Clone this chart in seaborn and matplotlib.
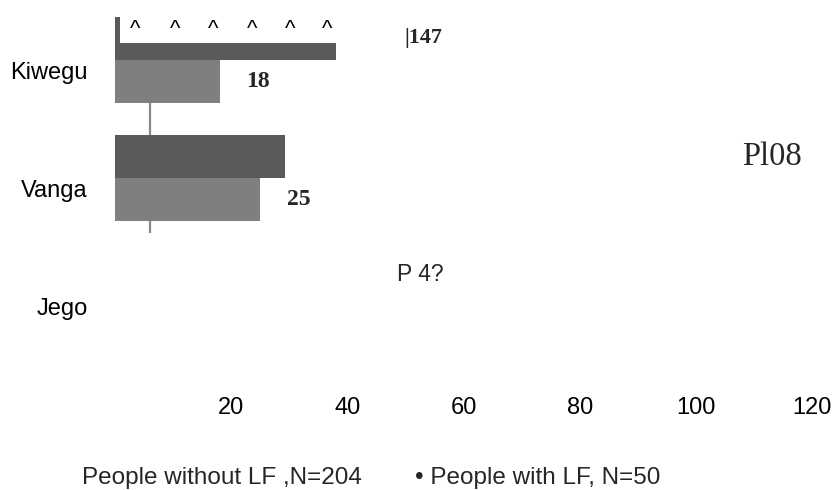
import matplotlib
matplotlib.use("Agg")
import matplotlib.pyplot as plt
import matplotlib.transforms as mtransforms
from matplotlib.patches import Polygon
import numpy as np
import pandas as pd
import seaborn as sns

# ---- data ----
villages = ["Kiwegu", "Vanga", "Jego"]
without_lf = [47, 108, 49]          # People without LF, N=204
with_lf = [18, 25, 7]               # People with LF, N=50
series_names = ["People without LF ,N=204", "People with LF, N=50"]
without_labels = ["|147", "Pl08", "P 4?"]
with_labels = ["18", "25", ""]
x_ticks = [20, 40, 60, 80, 100, 120]

df = pd.DataFrame({
    "Village": villages * 2,
    "Group": [series_names[0]] * 3 + [series_names[1]] * 3,
    "Count": without_lf + with_lf,
})

sns.set_style("white")
plt.rcParams["font.family"] = ["Liberation Sans", "DejaVu Sans"]

fig = plt.figure(figsize=(8.34, 4.9), dpi=100)
ax = fig.add_axes([115 / 834, 1 - 355 / 490, 697 / 834, 354 / 490])

sns.barplot(data=df, y="Village", x="Count", hue="Group", orient="h",
            palette=["#5a5a5a", "#7f7f7f"], saturation=1, width=0.73,
            dodge=True, legend=False, ax=ax, zorder=2, linewidth=0)

ax.set_xlim(0, 120)
ax.set_ylim(2.5, -0.5)
ax.set_xticks(x_ticks)
ax.set_xticklabels([str(t) for t in x_ticks])
ax.set_xlabel("")
ax.set_ylabel("")
for s in ax.spines.values():
    s.set_visible(False)
ax.tick_params(axis="both", length=0, labelsize=17, colors="black")
ax.tick_params(axis="x", pad=30)
ax.tick_params(axis="y", pad=19.5)
offset = mtransforms.ScaledTranslation(0, -0.1, fig.dpi_scale_trans)
for lbl in ax.get_yticklabels():
    lbl.set_transform(lbl.get_transform() + offset)

# visible window of the (partly blank) original chart image
window = Polygon([(0, -0.41), (0.9, -0.41), (0.9, -0.144), (38.0, -0.144),
                  (38.0, 0.0), (29.3, 0.0), (29.3, 1.466), (0, 1.466)],
                 closed=True, transform=ax.transData, facecolor="none",
                 edgecolor="none")
ax.add_patch(window)
for p in ax.patches:
    if p is not window:
        p.set_clip_path(window)
gl = ax.axvline(6.0, color="#8a8a8a", lw=1.6, zorder=1)
gl.set_clip_path(window)

# value labels
t_without = ax.bar_label(ax.containers[0], labels=without_labels, padding=2)
t_with = ax.bar_label(ax.containers[1], labels=with_labels, padding=19,
                      fontsize=17, fontweight="bold",
                      family=["Liberation Serif", "DejaVu Serif"])
t_without[0].set_fontproperties({"family": ["Liberation Serif", "DejaVu Serif"],
                                 "weight": "bold", "size": 16})
t_without[0].xyann = (12, 0)
t_without[1].set_fontproperties({"family": ["Liberation Serif", "DejaVu Serif"],
                                 "size": 23.5})
t_without[1].xyann = (0, 0)
t_without[2].set_fontproperties({"family": ["Liberation Sans", "DejaVu Sans"],
                                 "size": 16.5})
t_without[2].xyann = (-2, 0)

# residual caret marks above the first bar
for cx in [3.5, 10.3, 16.9, 23.6, 30.1, 36.6]:
    ax.text(cx, -0.255, "^", ha="center", va="center", fontsize=16,
            color="black")

# legend text (no swatches in the original)
fig.text(82 / 834, 1 - 484 / 490, series_names[0], fontsize=17.5,
         va="baseline", ha="left")
fig.text(415 / 834, 1 - 484 / 490, "\u2022 " + series_names[1], fontsize=17.5,
         va="baseline", ha="left")

fig.savefig("out.png", dpi=100)
